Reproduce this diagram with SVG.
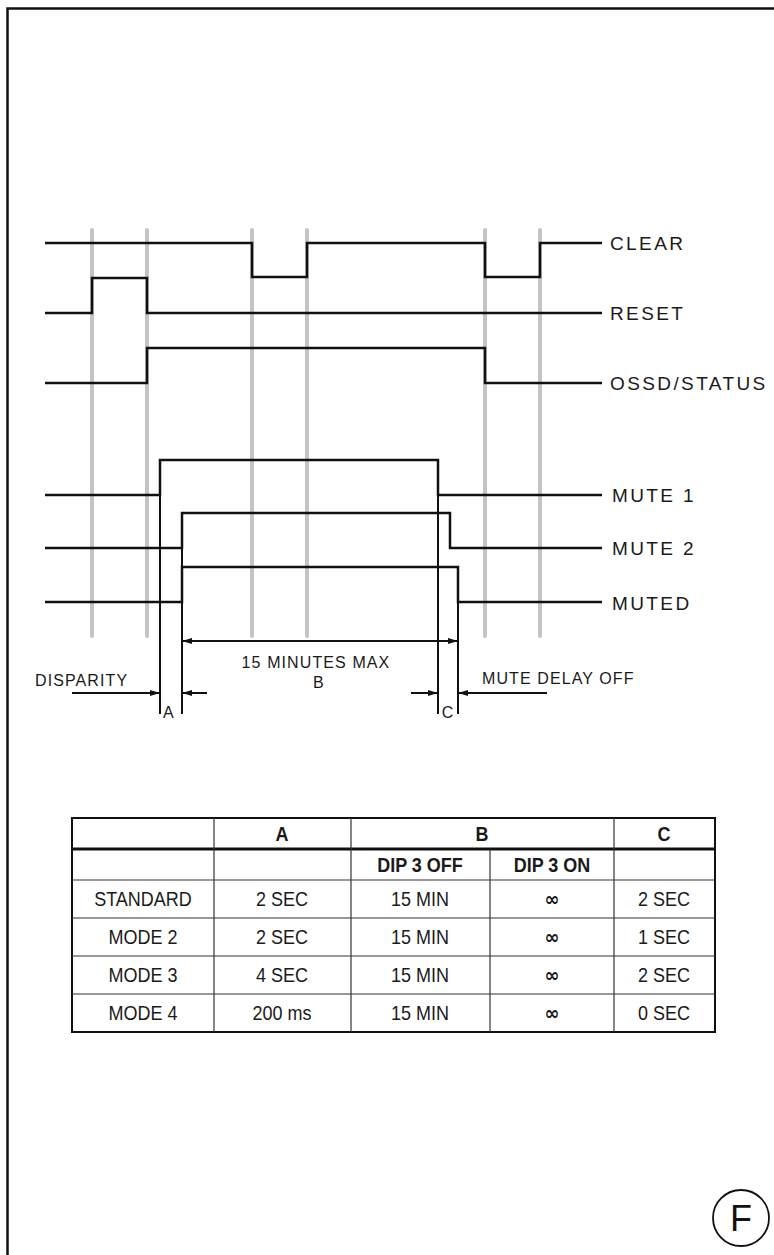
<svg xmlns="http://www.w3.org/2000/svg" width="774" height="1255" viewBox="0 0 774 1255">
<style>
.grid{stroke:#c4c4c4;stroke-width:4;stroke-linecap:round;fill:none}
.sig{stroke:#111;stroke-width:2.5;fill:none;stroke-linejoin:miter}
.ext{stroke:#111;stroke-width:2;fill:none}
.dim{stroke:#111;stroke-width:2;fill:none}
.lbl{font-family:"Liberation Sans",Arial,sans-serif;font-size:19px;letter-spacing:2.4px;fill:#1a1a1a}
.small{font-family:"Liberation Sans",Arial,sans-serif;font-size:16px;letter-spacing:1.1px;fill:#1a1a1a}
.cell{font-family:"Liberation Sans",Arial,sans-serif;font-size:20px;fill:#1a1a1a;text-anchor:middle}
.hdr{font-family:"Liberation Sans",Arial,sans-serif;font-size:20px;font-weight:bold;fill:#1a1a1a;text-anchor:middle}
.inf{font-family:"DejaVu Sans",sans-serif;font-size:20px;font-weight:bold;fill:#1a1a1a;text-anchor:middle}
.tl{stroke:#333;stroke-width:1.2}
</style>
<defs>
<marker id="arr" viewBox="0 0 10 6" refX="10" refY="3" markerWidth="10" markerHeight="6" markerUnits="userSpaceOnUse" orient="auto">
<path d="M0,0 L10,3 L0,6 z" fill="#111"/>
</marker>
</defs>
<rect x="0" y="0" width="774" height="1255" fill="#fff"/>
<path d="M7.5,1255 V8.5 H774" fill="none" stroke="#111" stroke-width="2.5"/>

<g id="gridlines">
<line class="grid" x1="92" y1="230" x2="92" y2="636"/>
<line class="grid" x1="147" y1="230" x2="147" y2="636"/>
<line class="grid" x1="252" y1="230" x2="252" y2="636"/>
<line class="grid" x1="307" y1="230" x2="307" y2="636"/>
<line class="grid" x1="485" y1="230" x2="485" y2="636"/>
<line class="grid" x1="540" y1="230" x2="540" y2="636"/>
</g>

<g id="connectors">
<path id="sig-clear" class="sig" d="M45,243 H252 V277 H307 V243 H485 V277 H540 V243 H602"/>
<path id="sig-reset" class="sig" d="M45,313 H92 V278 H147 V313 H602"/>
<path id="sig-ossd" class="sig" d="M45,383 H147 V348 H485 V383 H602"/>
<path id="sig-mute1" class="sig" d="M45,495 H160 V460 H438 V495 H602"/>
<path id="sig-mute2" class="sig" d="M45,548 H182 V513 H450 V548 H602"/>
<path id="sig-muted" class="sig" d="M45,602 H182 V567 H458 V602 H602"/>
<line class="ext" x1="160" y1="495" x2="160" y2="714"/>
<line class="ext" x1="182" y1="548" x2="182" y2="714"/>
<line class="ext" x1="438" y1="495" x2="438" y2="714"/>
<line class="ext" x1="458" y1="602" x2="458" y2="714"/>
<line class="dim" x1="320" y1="641" x2="182" y2="641" marker-end="url(#arr)"/>
<line class="dim" x1="320" y1="641" x2="458" y2="641" marker-end="url(#arr)"/>
<line class="dim" x1="72" y1="693" x2="160" y2="693" marker-end="url(#arr)"/>
<line class="dim" x1="207" y1="693" x2="182" y2="693" marker-end="url(#arr)"/>
<line class="dim" x1="411" y1="693" x2="438" y2="693" marker-end="url(#arr)"/>
<line class="dim" x1="547" y1="693" x2="458" y2="693" marker-end="url(#arr)"/>
</g>

<g id="label-clear"><text class="lbl" x="610" y="250">CLEAR</text></g>
<g id="label-reset"><text class="lbl" x="610" y="320">RESET</text></g>
<g id="label-ossd"><text class="lbl" x="610" y="390">OSSD/STATUS</text></g>
<g id="label-mute1"><text class="lbl" x="612" y="502" letter-spacing="1.8">MUTE 1</text></g>
<g id="label-mute2"><text class="lbl" x="612" y="555" letter-spacing="1.8">MUTE 2</text></g>
<g id="label-muted"><text class="lbl" x="612" y="610" letter-spacing="1.8">MUTED</text></g>

<g id="dim-labels">
<text class="small" x="35" y="686" letter-spacing="1.4">DISPARITY</text>
<text class="small" x="316" y="668" text-anchor="middle">15 MINUTES MAX</text>
<text class="small" x="319" y="688" text-anchor="middle">B</text>
<text class="small" x="169" y="718" text-anchor="middle" font-size="14">A</text>
<text class="small" x="448" y="718" text-anchor="middle" font-size="14">C</text>
<text class="small" x="482" y="684">MUTE DELAY OFF</text>
</g>

<g id="table">
<rect x="72" y="818" width="643" height="214" fill="none" stroke="#111" stroke-width="2"/>
<line x1="72" y1="849" x2="715" y2="849" stroke="#111" stroke-width="3"/>
<line class="tl" x1="72" y1="880" x2="715" y2="880"/>
<line class="tl" x1="72" y1="918" x2="715" y2="918"/>
<line class="tl" x1="72" y1="956" x2="715" y2="956"/>
<line class="tl" x1="72" y1="994" x2="715" y2="994"/>
<line class="tl" x1="214" y1="818" x2="214" y2="1032"/>
<line class="tl" x1="351" y1="818" x2="351" y2="1032"/>
<line class="tl" x1="490" y1="849" x2="490" y2="1032"/>
<line class="tl" x1="614" y1="818" x2="614" y2="1032"/>
<g transform="scale(0.9,1)">
<text class="hdr" x="313.3" y="841">A</text>
<text class="hdr" x="535.6" y="841">B</text>
<text class="hdr" x="737.8" y="841">C</text>
<text class="hdr" x="466.7" y="872">DIP 3 OFF</text>
<text class="hdr" x="613.3" y="872">DIP 3 ON</text>
<text class="cell" x="158.9" y="906">STANDARD</text>
<text class="cell" x="313.3" y="906">2 SEC</text>
<text class="cell" x="466.7" y="906">15 MIN</text>
<text class="inf" x="613.3" y="906">∞</text>
<text class="cell" x="737.8" y="906">2 SEC</text>
<text class="cell" x="158.9" y="944">MODE 2</text>
<text class="cell" x="313.3" y="944">2 SEC</text>
<text class="cell" x="466.7" y="944">15 MIN</text>
<text class="inf" x="613.3" y="944">∞</text>
<text class="cell" x="737.8" y="944">1 SEC</text>
<text class="cell" x="158.9" y="982">MODE 3</text>
<text class="cell" x="313.3" y="982">4 SEC</text>
<text class="cell" x="466.7" y="982">15 MIN</text>
<text class="inf" x="613.3" y="982">∞</text>
<text class="cell" x="737.8" y="982">2 SEC</text>
<text class="cell" x="158.9" y="1020">MODE 4</text>
<text class="cell" x="313.3" y="1020">200 ms</text>
<text class="cell" x="466.7" y="1020">15 MIN</text>
<text class="inf" x="613.3" y="1020">∞</text>
<text class="cell" x="737.8" y="1020">0 SEC</text>
</g>
</g>

<g id="badge-f">
<circle cx="741" cy="1218" r="28" fill="none" stroke="#111" stroke-width="1.8"/>
<text x="741" y="1231" text-anchor="middle" font-family="'Liberation Sans',Arial,sans-serif" font-size="36" fill="#111">F</text>
</g>
</svg>
